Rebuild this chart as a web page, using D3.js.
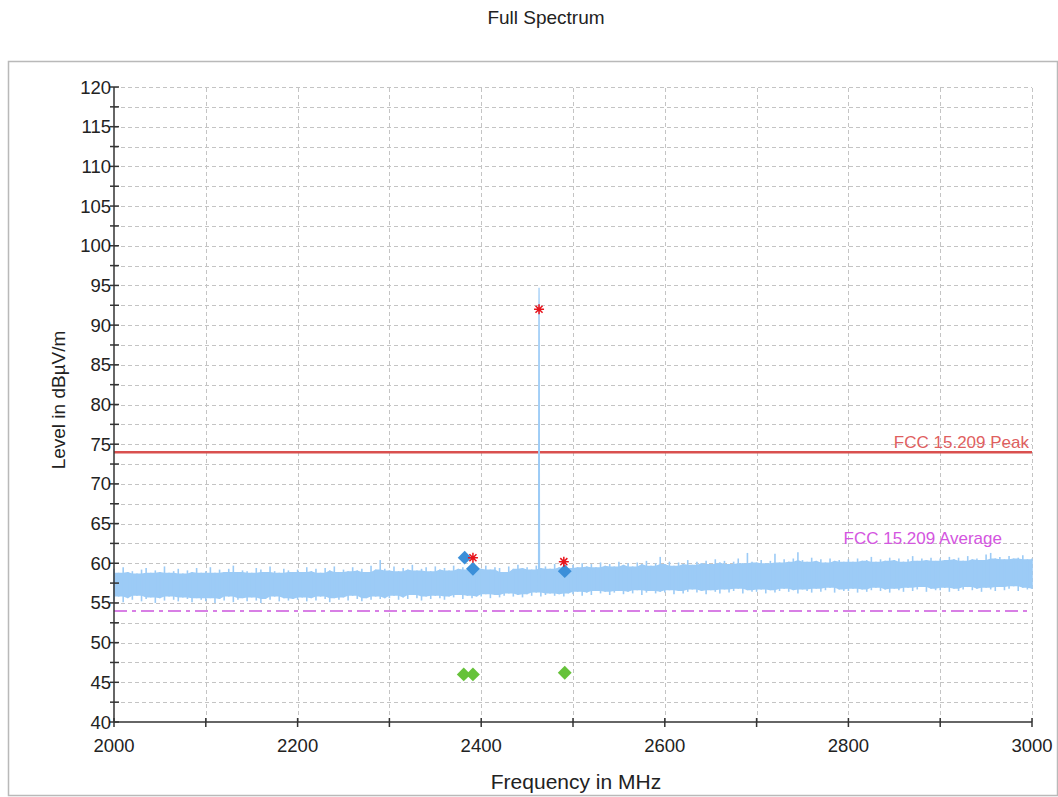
<!DOCTYPE html>
<html>
<head>
<meta charset="utf-8">
<script src="https://cdn.jsdelivr.net/npm/d3@7"></script>
<style>
    body { margin: 0; background: #fff; }
    svg text { font-family: "Liberation Sans", Arial, sans-serif; fill: #222; }
</style>
</head>
<body>
<div id="chart"></div>
<script>
// --- data ---
var freqDomain = [2000, 3000];
var levelDomain = [40, 120];

// trace envelope, one value every 5 MHz from 2000 to 3000 MHz
var traceStart = 2000;
var traceStep = 5;
var traceMax = [
    59.3, 58.8, 59.5, 58.9, 59.0, 58.7, 59.2, 59.4, 58.8, 59.1, 58.9, 59.6, 58.8, 59.0, 59.3, 58.7, 59.1, 58.9, 59.4, 58.8,
    59.0, 59.5, 58.8, 59.2, 58.9, 59.3, 59.7, 58.9, 59.1, 59.0, 58.8, 59.4, 59.2, 58.9, 59.6, 59.0, 58.8, 59.3, 59.1, 58.9,
    59.2, 58.9, 59.5, 59.0, 59.3, 58.8, 59.4, 59.1, 59.6, 58.9, 59.2, 59.0, 59.5, 59.1, 59.3, 58.9, 59.7, 59.2, 60.4, 59.3,
    59.1, 59.6, 59.0, 59.4, 59.2, 59.8, 59.1, 59.3, 59.5, 59.0, 59.6, 59.2, 59.4, 59.1, 59.7, 59.3, 59.5, 59.2, 59.6, 59.4,
    59.3, 59.7, 59.2, 59.5, 59.4, 58.9, 59.6, 59.3, 59.8, 59.4, 59.5, 59.2, 59.7, 59.4, 59.6, 59.3, 59.9, 59.5, 59.7, 59.4,
    59.8, 59.5, 60.0, 59.6, 59.9, 59.5, 60.1, 59.7, 59.9, 59.6, 60.2, 59.8, 60.0, 59.6, 60.1, 59.9, 60.3, 59.7, 60.0, 60.8,
    59.9, 60.2, 59.7, 60.1, 59.9, 60.4, 59.8, 60.2, 60.0, 60.3, 59.9, 60.5, 60.1, 60.3, 59.9, 60.2, 60.6, 60.0, 61.3, 60.2,
    60.1, 60.4, 60.0, 60.3, 61.2, 60.1, 60.5, 60.2, 60.6, 61.4, 60.4, 60.2, 60.7, 60.3, 60.5, 60.1, 60.6, 60.3, 60.4, 60.2,
    60.5, 60.2, 60.6, 60.3, 60.4, 60.8, 60.2, 60.5, 60.3, 60.7, 60.4, 60.6, 60.2, 60.5, 60.9, 60.3, 60.6, 60.4, 60.7, 60.3,
    60.6, 60.4, 60.8, 60.5, 60.7, 60.3, 60.9, 60.5, 60.6, 60.4, 61.1, 61.3, 60.6, 60.8, 60.5, 60.9, 60.6, 60.7, 61.0, 60.5,
    60.6
];
var traceMin = [
    55.3, 55.8, 55.1, 55.6, 55.4, 55.9, 55.2, 55.5, 55.7, 55.0, 55.6, 55.3, 55.8, 55.4, 55.2, 55.7, 55.5, 55.1, 55.6, 55.4,
    55.2, 55.6, 55.0, 55.5, 55.3, 55.8, 55.1, 55.4, 55.6, 55.2, 55.7, 55.3, 55.0, 55.5, 55.4, 55.8, 55.2, 55.6, 55.3, 55.5,
    55.4, 55.7, 55.2, 55.6, 55.3, 55.8, 55.5, 55.1, 55.6, 55.4, 55.7, 55.3, 55.9, 55.5, 55.2, 55.6, 55.4, 55.8, 55.5, 55.6,
    55.6, 55.9, 55.4, 55.7, 55.5, 56.0, 55.6, 55.3, 55.8, 55.5, 55.9, 55.6, 55.4, 55.8, 55.7, 56.0, 55.5, 55.9, 55.6, 55.8,
    55.8, 56.1, 55.6, 56.0, 55.7, 55.9, 56.2, 55.8, 56.0, 55.7, 56.1, 55.9, 56.3, 55.8, 56.0, 56.2, 55.9, 56.1, 55.8, 56.2,
    56.1, 56.4, 55.9, 56.3, 56.0, 56.5, 56.2, 56.4, 56.0, 56.3, 56.5, 56.1, 56.4, 56.2, 56.6, 56.0, 56.3, 56.5, 56.2, 56.4,
    56.3, 56.6, 56.1, 56.5, 56.2, 56.4, 56.7, 56.3, 56.5, 56.1, 56.6, 56.4, 56.2, 56.7, 56.3, 56.5, 56.8, 56.2, 56.6, 56.4,
    56.4, 56.7, 56.2, 56.6, 56.3, 56.5, 56.8, 56.4, 56.6, 56.2, 56.7, 56.5, 56.3, 56.8, 56.4, 56.6, 56.9, 56.3, 56.7, 56.5,
    56.5, 56.8, 56.3, 56.7, 56.4, 56.6, 56.9, 56.5, 56.7, 56.3, 56.8, 56.6, 56.4, 56.9, 56.5, 56.7, 57.0, 56.4, 56.8, 56.6,
    56.6, 56.9, 56.4, 56.8, 56.5, 56.7, 57.0, 56.6, 56.8, 56.4, 56.9, 56.7, 56.5, 57.0, 56.6, 56.8, 57.1, 56.5, 56.9, 56.7,
    56.8
];

// carrier at 2463 MHz
var carrierFreq = [2462.4, 2462.8, 2463.0, 2463.2, 2463.6];
var carrierLevel = [57.2, 89.6, 94.7, 89.6, 57.2];

// limit lines
var peakLimit = 74;
var averageLimit = 54;
var peakLimitLabel = 'FCC 15.209 Peak';
var averageLimitLabel = 'FCC 15.209 Average';

// final measurement points
var peakMarkFreq = [2391, 2463, 2490];
var peakMarkLevel = [60.7, 92.0, 60.2];
var qpMarkFreq = [2382, 2391, 2491];
var qpMarkLevel = [60.7, 59.3, 59.0];
var avgMarkFreq = [2381, 2391, 2491];
var avgMarkLevel = [46.0, 46.0, 46.2];

// axis ticks
var yLabelTicks = d3.range(40, 121, 5);
var yGridTicks = d3.range(40, 120.1, 2.5);
var xLabelTicks = [2000, 2200, 2400, 2600, 2800, 3000];
var xGridTicks = d3.range(2000, 3001, 100);

var chartTitle = 'Full Spectrum';
var xTitle = 'Frequency in MHz';
var yTitle = 'Level in dBµV/m';

window.emc = window.emc || {};

emc.SpectrumChart = {

    render: function (el) {
        this.svg = d3.select(el).append('svg')
            .attr('width', 1058)
            .attr('height', 797);

        this.x = d3.scaleLinear().domain(freqDomain).range([114, 1032]);
        this.y = d3.scaleLinear().domain(levelDomain).range([722, 87]);

        this.appendFrame(this.svg);
        this.appendGrid(this.svg);
        this.appendLimits(this.svg);
        this.appendTrace(this.svg);
        this.appendMarkers(this.svg);
        this.appendAxes(this.svg);
        this.appendTitles(this.svg);
    },

    appendFrame: function (svg) {
        svg.append('rect')
            .attr('x', 8.5).attr('y', 61.5)
            .attr('width', 1049).attr('height', 734)
            .attr('fill', 'none')
            .attr('stroke', '#b9b9b9')
            .attr('stroke-width', 1.5);
    },

    appendGrid: function (svg) {
        var x = this.x, y = this.y;
        var grid = svg.append('g')
            .attr('stroke', '#c4c4c4')
            .attr('stroke-width', 1)
            .attr('stroke-dasharray', '4,3');

        grid.selectAll('line.h')
            .data(yGridTicks.slice(1))
            .enter().append('line')
            .attr('class', 'h')
            .attr('x1', x(freqDomain[0])).attr('x2', x(freqDomain[1]))
            .attr('y1', function (d) { return Math.round(y(d)) + 0.5; })
            .attr('y2', function (d) { return Math.round(y(d)) + 0.5; });

        grid.selectAll('line.v')
            .data(xGridTicks.slice(1))
            .enter().append('line')
            .attr('class', 'v')
            .attr('y1', y(levelDomain[0])).attr('y2', y(levelDomain[1]))
            .attr('x1', function (d) { return Math.round(x(d)) + 0.5; })
            .attr('x2', function (d) { return Math.round(x(d)) + 0.5; });
    },

    appendLimits: function (svg) {
        var x = this.x, y = this.y;

        svg.append('line')
            .attr('x1', x(freqDomain[0])).attr('x2', x(freqDomain[1]))
            .attr('y1', y(peakLimit)).attr('y2', y(peakLimit))
            .attr('stroke', '#d9504f')
            .attr('stroke-width', 2.5);

        svg.append('line')
            .attr('x1', x(freqDomain[0])).attr('x2', x(freqDomain[1]))
            .attr('y1', y(averageLimit)).attr('y2', y(averageLimit))
            .attr('stroke', '#cc55dd')
            .attr('stroke-width', 1.5)
            .attr('stroke-dasharray', '13,5,4,5');

        svg.append('text')
            .attr('x', 1029).attr('y', y(peakLimit) - 4)
            .attr('text-anchor', 'end')
            .style('font-size', '17px')
            .style('fill', '#df5f5f')
            .text(peakLimitLabel);

        svg.append('text')
            .attr('x', 1002).attr('y', 544)
            .attr('text-anchor', 'end')
            .style('font-size', '17px')
            .style('fill', '#d455e0')
            .text(averageLimitLabel);
    },

    appendTrace: function (svg) {
        var x = this.x, y = this.y;
        var n = traceMax.length;
        var points = traceMax.map(function (hi, i) {
            var a = Math.max(0, i - 1), b = Math.min(n, i + 2);
            return {
                f: traceStart + i * traceStep,
                hi: hi,
                lo: traceMin[i],
                // solid core: the part every neighbouring column covers
                coreHi: d3.min(traceMax.slice(a, b)),
                coreLo: d3.max(traceMin.slice(a, b))
            };
        });

        var band = d3.area()
            .x(function (d) { return x(d.f); })
            .y0(function (d) { return y(d.coreLo); })
            .y1(function (d) { return y(d.coreHi); });

        svg.append('path')
            .datum(points)
            .attr('d', band)
            .attr('fill', '#9ccbf6');

        // thin hairs at each sample, like the analyzer's min/max columns
        svg.append('g').selectAll('line')
            .data(points)
            .enter().append('line')
            .attr('x1', function (d) { return x(d.f); })
            .attr('x2', function (d) { return x(d.f); })
            .attr('y1', function (d) { return y(d.lo); })
            .attr('y2', function (d) { return y(d.hi); })
            .attr('stroke', '#9ccbf6')
            .attr('stroke-width', 1.6);

        var carrier = d3.line()
            .x(function (d) { return x(d[0]); })
            .y(function (d) { return y(d[1]); });

        svg.append('path')
            .datum(d3.zip(carrierFreq, carrierLevel))
            .attr('d', carrier)
            .attr('fill', '#9ccbf6')
            .attr('stroke', '#9ccbf6')
            .attr('stroke-width', 1.2);
    },

    appendMarkers: function (svg) {
        var x = this.x, y = this.y;
        var diamond = d3.symbol(d3.symbolSquare, 96)();

        // blue and green diamonds
        [[qpMarkFreq, qpMarkLevel, '#3b8fd9'], [avgMarkFreq, avgMarkLevel, '#66c23a']].forEach(function (set) {
            svg.append('g').selectAll('path')
                .data(d3.zip(set[0], set[1]))
                .enter().append('path')
                .attr('d', diamond)
                .attr('fill', set[2])
                .attr('transform', function (d) {
                    return 'translate(' + x(d[0]) + ',' + y(d[1]) + ') rotate(45)';
                });
        });

        // red asterisks
        var r = 5;
        var star = d3.range(4).map(function (k) {
            var a = k * Math.PI / 4;
            var dx = r * Math.cos(a), dy = r * Math.sin(a);
            return 'M' + (-dx) + ',' + (-dy) + 'L' + dx + ',' + dy;
        }).join('');

        svg.append('g').selectAll('path')
            .data(d3.zip(peakMarkFreq, peakMarkLevel))
            .enter().append('path')
            .attr('d', star)
            .attr('fill', 'none')
            .attr('stroke', '#e8141c')
            .attr('stroke-width', 1.5)
            .attr('transform', function (d) {
                return 'translate(' + x(d[0]) + ',' + y(d[1]) + ')';
            });
    },

    appendAxes: function (svg) {
        var x = this.x, y = this.y;
        var axes = svg.append('g')
            .attr('stroke', '#333')
            .attr('stroke-width', 1.5);

        axes.append('line')
            .attr('x1', x(freqDomain[0])).attr('x2', x(freqDomain[0]))
            .attr('y1', y(levelDomain[0])).attr('y2', y(levelDomain[1]));
        axes.append('line')
            .attr('x1', x(freqDomain[0])).attr('x2', x(freqDomain[1]))
            .attr('y1', y(levelDomain[0])).attr('y2', y(levelDomain[0]));

        axes.selectAll('line.yt')
            .data(yGridTicks)
            .enter().append('line')
            .attr('class', 'yt')
            .attr('x1', x(freqDomain[0]) - 4).attr('x2', x(freqDomain[0]) + 5)
            .attr('y1', function (d) { return y(d); })
            .attr('y2', function (d) { return y(d); });

        axes.selectAll('line.xt')
            .data(xGridTicks)
            .enter().append('line')
            .attr('class', 'xt')
            .attr('y1', y(levelDomain[0]) - 4).attr('y2', y(levelDomain[0]) + 5)
            .attr('x1', function (d) { return x(d); })
            .attr('x2', function (d) { return x(d); });

        svg.append('g').selectAll('text')
            .data(yLabelTicks)
            .enter().append('text')
            .attr('x', x(freqDomain[0]) - 3)
            .attr('y', function (d) { return y(d) + 6.5; })
            .attr('text-anchor', 'end')
            .style('font-size', '18.5px')
            .text(function (d) { return d; });

        svg.append('g').selectAll('text')
            .data(xLabelTicks)
            .enter().append('text')
            .attr('x', function (d) { return x(d); })
            .attr('y', 752)
            .attr('text-anchor', 'middle')
            .style('font-size', '18.5px')
            .text(function (d) { return d; });
    },

    appendTitles: function (svg) {
        svg.append('text')
            .attr('x', 546).attr('y', 24)
            .attr('text-anchor', 'middle')
            .style('font-size', '19px')
            .text(chartTitle);

        svg.append('text')
            .attr('x', 576).attr('y', 789)
            .attr('text-anchor', 'middle')
            .style('font-size', '21px')
            .text(xTitle);

        svg.append('text')
            .attr('transform', 'translate(65,400) rotate(-90)')
            .attr('text-anchor', 'middle')
            .style('font-size', '19px')
            .text(yTitle);
    }
};

emc.SpectrumChart.render(document.getElementById('chart'));
</script>
</body>
</html>
